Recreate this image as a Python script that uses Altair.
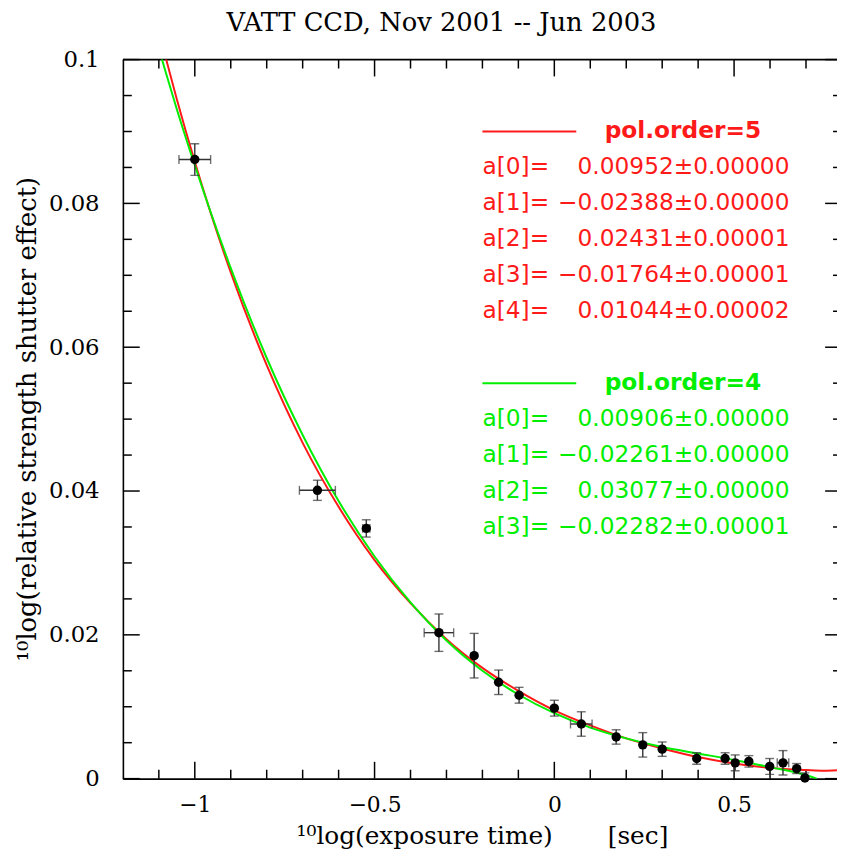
import altair as alt
import pandas as pd

# ---------------- data ----------------
title_text = "VATT CCD, Nov 2001 -- Jun 2003"
x_title = "\u00b9\u2070log(exposure time)\u00a0\u00a0\u00a0\u00a0\u00a0\u00a0\u00a0[sec]"
y_title = "\u00b9\u2070log(relative strength shutter effect)"

x_obs = [-1.0, -0.659, -0.523, -0.321, -0.223, -0.155, -0.098, 0.0, 0.075, 0.172,
         0.246, 0.300, 0.396, 0.475, 0.503, 0.541, 0.599, 0.636, 0.674, 0.697]
y_obs = [0.0861, 0.0401, 0.0348, 0.0203, 0.0171, 0.0134, 0.0116, 0.0098, 0.0076, 0.0058,
         0.0047, 0.0041, 0.0028, 0.0028, 0.0022, 0.0024, 0.0017, 0.0022, 0.0014, 0.0001]
y_err = [0.0022, 0.0014, 0.0012, 0.0026, 0.0031, 0.0017, 0.0011, 0.0011, 0.0017, 0.0010,
         0.0017, 0.0010, 0.0008, 0.0008, 0.0011, 0.0008, 0.0011, 0.0017, 0.0007, 0.0007]
x_err = [0.044, 0.050, 0.010, 0.041, 0.0, 0.0, 0.0, 0.0, 0.030, 0.0,
         0.0, 0.0, 0.0, 0.0, 0.0, 0.0, 0.0, 0.016, 0.0, 0.0]

red_x = [-1.10, -1.08, -1.05, -1.0, -0.9, -0.8, -0.7, -0.6, -0.5, -0.4, -0.3, -0.2,
         -0.1, 0.0, 0.1, 0.2, 0.3, 0.4, 0.5, 0.6, 0.7, 0.75, 0.8]
red_y = [0.1040, 0.1001, 0.0945, 0.0858, 0.0704, 0.0575, 0.0467, 0.0378, 0.0304, 0.0244,
         0.0194, 0.0154, 0.0122, 0.0095, 0.0074, 0.0056, 0.0042, 0.0030, 0.0021, 0.0015,
         0.0012, 0.0011, 0.0012]
green_x = [-1.10, -1.08, -1.05, -1.0, -0.9, -0.8, -0.7, -0.6, -0.5, -0.4, -0.3, -0.2,
           -0.1, 0.0, 0.1, 0.2, 0.3, 0.4, 0.5, 0.6, 0.7, 0.73]
green_y = [0.1015, 0.0981, 0.0931, 0.0853, 0.0710, 0.0585, 0.0478, 0.0386, 0.0309, 0.0245,
           0.0192, 0.0150, 0.0117, 0.0091, 0.0071, 0.0056, 0.0044, 0.0035, 0.0026, 0.0016,
           0.0005, 0.0]

red_header = "pol.order=5"
red_names = ["a[0]=", "a[1]=", "a[2]=", "a[3]=", "a[4]="]
red_vals = ["0.00952\u00b10.00000", "\u22120.02388\u00b10.00000", "0.02431\u00b10.00001",
            "\u22120.01764\u00b10.00001", "0.01044\u00b10.00002"]
red_rows = [0.085, 0.080, 0.075, 0.070, 0.065]
red_head_y = 0.090

green_header = "pol.order=4"
green_names = ["a[0]=", "a[1]=", "a[2]=", "a[3]="]
green_vals = ["0.00906\u00b10.00000", "\u22120.02261\u00b10.00000", "0.03077\u00b10.00000",
              "\u22120.02282\u00b10.00001"]
green_rows = [0.050, 0.045, 0.040, 0.035]
green_head_y = 0.055

leg_x0, leg_x1, leg_name_x, leg_val_x, leg_head_x = -0.2, 0.061, -0.2, 0.654, 0.14

x_major = [-1.0, -0.5, 0.0, 0.5]
x_minor = [-1.1, -0.9, -0.8, -0.7, -0.6, -0.4, -0.3, -0.2, -0.1, 0.1, 0.2, 0.3, 0.4, 0.6, 0.7]
y_major = [0.0, 0.02, 0.04, 0.06, 0.08, 0.1]
y_minor = [0.005, 0.01, 0.015, 0.025, 0.03, 0.035, 0.045, 0.05, 0.055, 0.065, 0.07,
           0.075, 0.085, 0.09, 0.095]

# ---------------- chart ----------------
W, H = 721, 726          # visible plot area (frame continues past the right page edge)
XR = 726                 # full x range of the frame in pixels
RED, GREEN = "#ff1a1a", "#00ee00"
SERIF, SANS = "DejaVu Serif", "DejaVu Sans"
LEGFS = 23.5

xs = alt.Scale(domain=[-1.2, 0.8], range=[0, XR], nice=False, zero=False)
ys = alt.Scale(domain=[0, 0.1], nice=False, zero=False)

obs = pd.DataFrame({"x": x_obs, "y": y_obs, "ey": y_err, "ex": x_err})
obs["ylo"] = obs["y"] - obs["ey"]
obs["yhi"] = obs["y"] + obs["ey"]
obs["xlo"] = obs["x"] - obs["ex"]
obs["xhi"] = obs["x"] + obs["ex"]
obs_x = obs[obs["ex"] > 0]

x_axis = alt.Axis(values=x_major, format="~g", ticks=False, domain=True, domainColor="black",
                  domainWidth=1.6, grid=False, title=None,
                  labelFont=SERIF, labelFontSize=22, labelColor="black", labelPadding=16)
y_axis = alt.Axis(values=y_major, format="~g", ticks=False, domain=True, domainColor="black",
                  domainWidth=1.6, grid=False, title=None,
                  labelFont=SERIF, labelFontSize=23, labelColor="black", labelPadding=24)

def X(f):
    return alt.X(f, type="quantitative", scale=xs, axis=x_axis)

def Y(f):
    return alt.Y(f, type="quantitative", scale=ys, axis=y_axis)

ERR = "#333333"
ebar_y = alt.Chart(obs).mark_rule(color=ERR, strokeWidth=1.4, clip=True).encode(
    x=X("x"), y=Y("ylo"), y2="yhi")
ecap_lo = alt.Chart(obs).mark_tick(color=ERR, orient="horizontal", size=9, thickness=1.4,
                                   clip=True).encode(x=X("x"), y=Y("ylo"))
ecap_hi = alt.Chart(obs).mark_tick(color=ERR, orient="horizontal", size=9, thickness=1.4,
                                   clip=True).encode(x=X("x"), y=Y("yhi"))
ebar_x = alt.Chart(obs_x).mark_rule(color=ERR, strokeWidth=1.4, clip=True).encode(
    x=X("xlo"), x2="xhi", y=Y("y"))
xcap_lo = alt.Chart(obs_x).mark_tick(color=ERR, orient="vertical", size=9, thickness=1.4,
                                     clip=True).encode(x=X("xlo"), y=Y("y"))
xcap_hi = alt.Chart(obs_x).mark_tick(color=ERR, orient="vertical", size=9, thickness=1.4,
                                     clip=True).encode(x=X("xhi"), y=Y("y"))

red_df = pd.DataFrame({"x": red_x, "y": red_y})
green_df = pd.DataFrame({"x": green_x, "y": green_y})
red_line = alt.Chart(red_df).mark_line(color=RED, strokeWidth=2, interpolate="monotone",
                                       clip=True).encode(x=X("x"), y=Y("y"))
green_line = alt.Chart(green_df).mark_line(color=GREEN, strokeWidth=2, interpolate="monotone",
                                           clip=True).encode(x=X("x"), y=Y("y"))

points = alt.Chart(obs).mark_circle(color="black", size=90, opacity=1).encode(
    x=X("x"), y=Y("y"))

# legend block (in data coordinates)
def legend_block(color, header, head_y, names, vals, rows):
    seg = pd.DataFrame({"x0": [leg_x0], "x1": [leg_x1], "y": [head_y]})
    line = alt.Chart(seg).mark_rule(color=color, strokeWidth=2).encode(
        x=X("x0"), x2="x1", y=Y("y"))
    head = alt.Chart(pd.DataFrame({"t": [header], "x": [leg_head_x], "y": [head_y]})).mark_text(
        color=color, font=SANS, fontSize=LEGFS, fontWeight="bold", align="left",
        baseline="middle").encode(x=X("x"), y=Y("y"), text="t:N")
    df = pd.DataFrame({"n": names, "v": vals, "y": rows,
                       "xn": [leg_name_x] * len(rows), "xv": [leg_val_x] * len(rows)})
    ntext = alt.Chart(df).mark_text(color=color, font=SANS, fontSize=LEGFS, align="left",
                                    baseline="middle").encode(x=X("xn"), y=Y("y"), text="n:N")
    vtext = alt.Chart(df).mark_text(color=color, font=SANS, fontSize=LEGFS, align="right",
                                    baseline="middle").encode(x=X("xv"), y=Y("y"), text="v:N")
    return [line, head, ntext, vtext]

# frame: top edge line and inward ticks (major and minor on every side)
def frame_layers():
    out = [alt.Chart(pd.DataFrame({"v": [0]})).mark_rule(color="black", strokeWidth=1.6).encode(
        x=alt.value(0), x2=alt.value(XR), y=alt.value(0))]
    for vals, ln in ((x_major, 17), (x_minor, 9)):
        d = pd.DataFrame({"v": vals})
        out.append(alt.Chart(d).mark_rule(color="black", strokeWidth=1.5).encode(
            x=X("v"), y=alt.value(H), y2=alt.value(H - ln)))
        out.append(alt.Chart(d).mark_rule(color="black", strokeWidth=1.5).encode(
            x=X("v"), y=alt.value(0), y2=alt.value(ln)))
    for vals, ln in ((y_major, 17), (y_minor, 9)):
        d = pd.DataFrame({"v": vals})
        out.append(alt.Chart(d).mark_rule(color="black", strokeWidth=1.5).encode(
            y=Y("v"), x=alt.value(0), x2=alt.value(ln)))
        out.append(alt.Chart(d).mark_rule(color="black", strokeWidth=1.5).encode(
            y=Y("v"), x=alt.value(XR), x2=alt.value(XR - ln)))
    return out

def text_at(t, x, y, size, angle=0, baseline="alphabetic"):
    return alt.Chart(pd.DataFrame({"t": [t]})).mark_text(
        font=SERIF, fontSize=size, color="black", align="center", baseline=baseline,
        angle=angle).encode(text="t:N", x=alt.value(x), y=alt.value(y))

title_mark = text_at(title_text, 321.7, -28.6, 26)
xtitle_mark = text_at(x_title, XR / 2, 792, 25)
ytitle_mark = text_at(y_title, -96, H / 2, 26, angle=270, baseline="middle")

layers = (frame_layers() + [red_line, green_line, ebar_y, ecap_lo, ecap_hi, ebar_x, xcap_lo,
                            xcap_hi, points]
          + legend_block(RED, red_header, red_head_y, red_names, red_vals, red_rows)
          + legend_block(GREEN, green_header, green_head_y, green_names, green_vals, green_rows)
          + [title_mark, xtitle_mark, ytitle_mark])

chart = alt.layer(*layers).properties(
    width=W, height=H,
    autosize=alt.AutoSizeParams(type="none"),
    padding={"left": 116, "top": 48, "right": 0, "bottom": 73},
    background="white",
).configure_view(stroke=None)

chart.save("out.html", embed_options={"renderer": "svg", "actions": False})
